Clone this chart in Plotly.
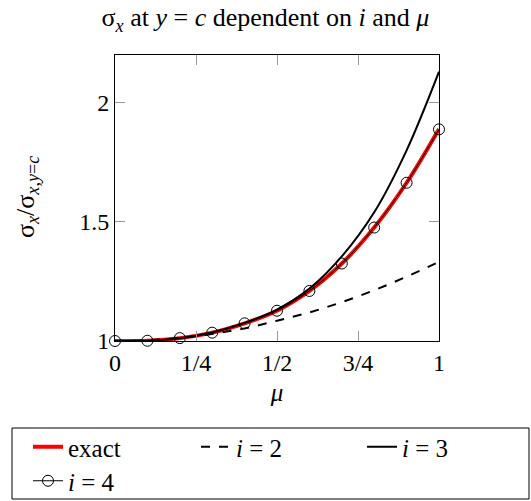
import plotly.graph_objects as go

mu = [0.0, 0.1, 0.2, 0.3, 0.4, 0.5, 0.6, 0.7, 0.8, 0.9, 1.0]
exact = [1.0, 1.001, 1.012, 1.035, 1.074, 1.127, 1.21, 1.325, 1.476, 1.664, 1.89]
i2 = [1.0, 1.003, 1.013, 1.03, 1.053, 1.085, 1.12, 1.163, 1.213, 1.27, 1.332]
i3 = [1.0, 1.001, 1.012, 1.036, 1.076, 1.132, 1.22, 1.355, 1.54, 1.80, 2.13]
i4 = [1.0, 1.001, 1.012, 1.035, 1.074, 1.127, 1.21, 1.325, 1.476, 1.664, 1.888]

xtickvals = [0, 0.25, 0.5, 0.75, 1]
xticktext = ["0", "1/4", "1/2", "3/4", "1"]
ytickvals = [1, 1.5, 2]
yticktext = ["1", "1.5", "2"]

FONT = "Liberation Serif, DejaVu Serif, Times New Roman, serif"
FS = 24

fig = go.Figure()
fig.add_trace(go.Scatter(x=mu, y=exact, mode="lines", name="exact",
                         line=dict(color="red", width=4, shape="spline"),
                         legend="legend"))
fig.add_trace(go.Scatter(x=mu, y=i2, mode="lines", name="<i>i</i> = 2",
                         line=dict(color="black", width=2, dash="dash", shape="spline"),
                         legend="legend2"))
fig.add_trace(go.Scatter(x=mu, y=i3, mode="lines", name="<i>i</i> = 3",
                         line=dict(color="black", width=2, shape="spline"),
                         legend="legend3"))
fig.add_trace(go.Scatter(x=mu, y=i4, mode="lines+markers", name="<i>i</i> = 4",
                         line=dict(color="black", width=1, shape="spline"),
                         marker=dict(symbol="circle-open", size=11, color="black",
                                     line=dict(width=1)),
                         cliponaxis=False, legend="legend4"))

W, H = 531, 501
L, R, T, B = 115, 92, 55, 160
pw, ph = W - L - R, H - T - B


def px2x(px):
    return (px - L) / pw


def py2y(py):
    return (H - B - py) / ph


axis_common = dict(showgrid=False, zeroline=False, showline=True, linecolor="black",
                   linewidth=1, mirror="ticks", ticks="inside", ticklen=10,
                   tickcolor="#999999", tickwidth=1,
                   tickfont=dict(family=FONT, size=FS, color="black"))

fig.update_xaxes(range=[0, 1], tickvals=xtickvals, ticktext=xticktext,
                 title=dict(text="<i>μ</i>", font=dict(family=FONT, size=FS + 1, color="black"),
                            standoff=8),
                 **axis_common)
fig.update_yaxes(range=[1, 2.2], tickvals=ytickvals, ticktext=yticktext, **axis_common)

legend_base = dict(font=dict(family=FONT, size=FS + 1, color="black"), bgcolor="rgba(0,0,0,0)",
                   borderwidth=0, xanchor="left", yanchor="middle", orientation="h",
                   xref="container", yref="container")
row1 = 1 - 447 / H
row2 = 1 - 481 / H
fig.update_layout(
    width=W, height=H,
    margin=dict(l=L, r=R, t=T, b=B, autoexpand=False),
    paper_bgcolor="white", plot_bgcolor="white",
    showlegend=True,
    title=dict(text="σ<sub><i>x</i></sub> at <i>y</i> = <i>c</i> dependent on <i>i</i> and <i>μ</i>",
               x=0.5, xanchor="center", y=1 - 17 / H, yanchor="middle", yref="container",
               font=dict(family=FONT, size=FS + 2, color="black")),
    legend=dict(x=28 / W, y=row1, **legend_base),
    legend2=dict(x=196 / W, y=row1, **legend_base),
    legend3=dict(x=362 / W, y=row1, **legend_base),
    legend4=dict(x=28 / W, y=row2, **legend_base),
)

fig.add_shape(type="rect", xref="paper", yref="paper",
              x0=px2x(12), x1=px2x(529), y0=py2y(428), y1=py2y(499),
              line=dict(color="black", width=1), fillcolor="rgba(0,0,0,0)")

fig.add_annotation(text="σ<sub><i>x</i></sub>/σ<sub><i>x</i>,<i>y</i>=<i>c</i></sub>",
                   xref="paper", yref="paper", x=px2x(27), y=py2y(197),
                   textangle=-90, showarrow=False, xanchor="center", yanchor="middle",
                   font=dict(family=FONT, size=FS + 2, color="black"))

fig.write_html("out.html")
